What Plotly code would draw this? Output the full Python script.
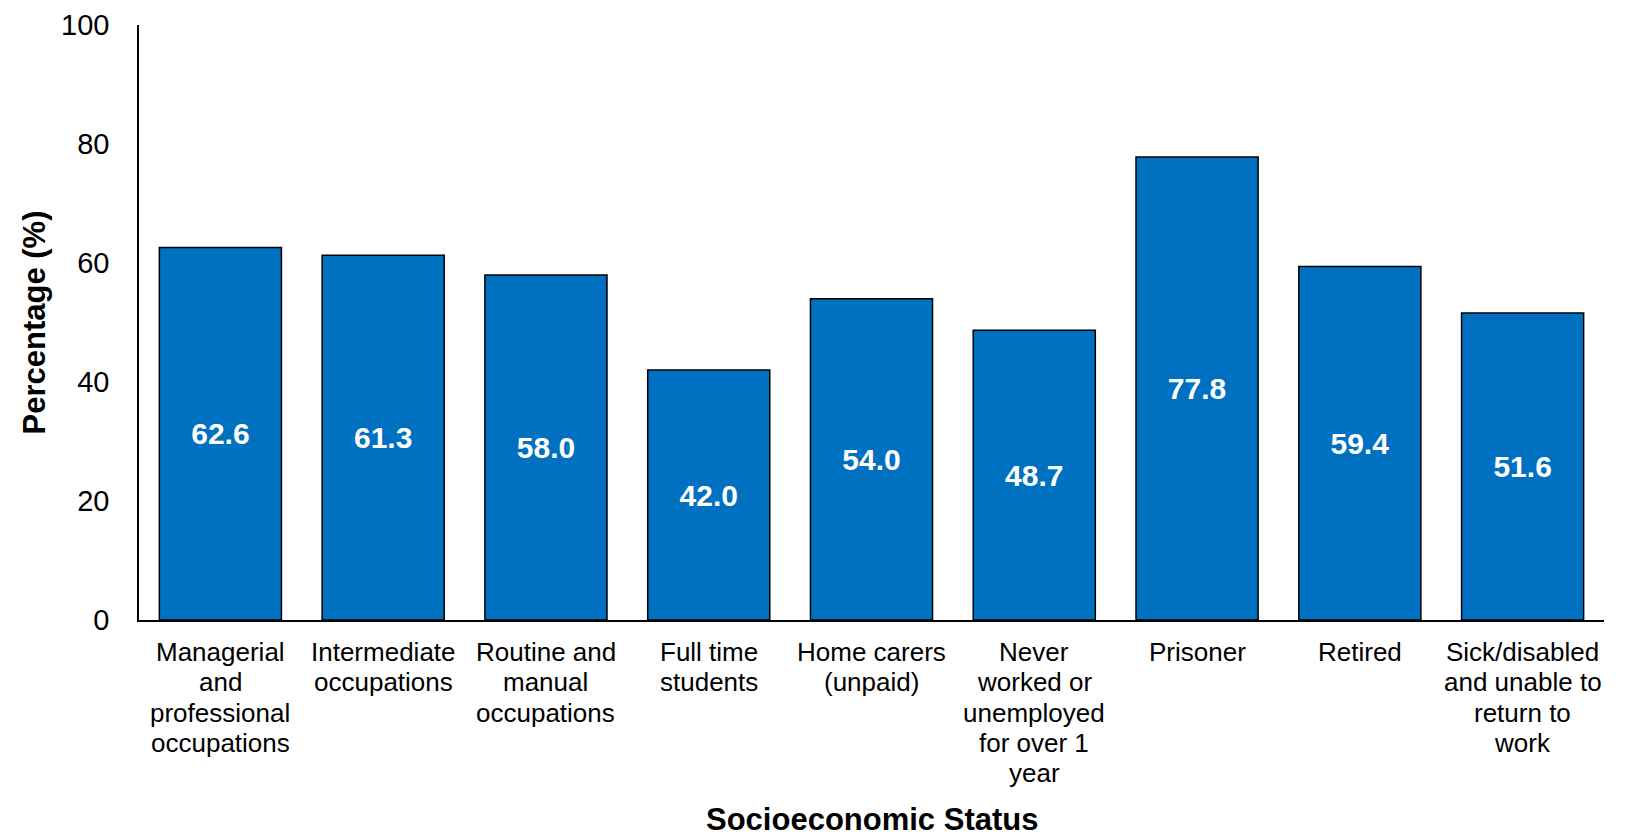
import plotly.graph_objects as go

categories = [
    "Managerial and professional occupations",
    "Intermediate occupations",
    "Routine and manual occupations",
    "Full time students",
    "Home carers (unpaid)",
    "Never worked or unemployed for over 1 year",
    "Prisoner",
    "Retired",
    "Sick/disabled and unable to return to work",
]
label_lines = [
    ["Managerial", "and", "professional", "occupations"],
    ["Intermediate", "occupations"],
    ["Routine and", "manual", "occupations"],
    ["Full time", "students"],
    ["Home carers", "(unpaid)"],
    ["Never", "worked or", "unemployed", "for over 1", "year"],
    ["Prisoner"],
    ["Retired"],
    ["Sick/disabled", "and unable to", "return to", "work"],
]
values = [62.6, 61.3, 58.0, 42.0, 54.0, 48.7, 77.8, 59.4, 51.6]
y_ticks = [0, 20, 40, 60, 80, 100]

FONT = "Arial, Liberation Sans, sans-serif"

fig = go.Figure()
fig.add_trace(go.Bar(
    x=categories,
    y=values,
    marker=dict(color="#0070C0", line=dict(color="black", width=1.5)),
    text=[f"{v:.1f}" for v in values],
    textposition="inside",
    insidetextanchor="middle",
    textangle=0,
    textfont=dict(family=FONT, size=30, color="white", weight="bold"),
    hoverinfo="x+y",
))

annotations = []
for cat, lines in zip(categories, label_lines):
    for i, line in enumerate(lines):
        annotations.append(dict(
            x=cat, y=0, xref="x", yref="y",
            text=line, showarrow=False,
            yanchor="middle", xanchor="center",
            yshift=-(32 + i * 30.3),
            font=dict(family=FONT, size=26, color="black"),
        ))

annotations.append(dict(
    x=0.5, y=0, xref="paper", yref="paper",
    text="<b>Socioeconomic Status</b>", showarrow=False,
    yanchor="middle", xanchor="center", yshift=-199,
    font=dict(family=FONT, size=31, color="black"),
))
annotations.append(dict(
    x=0, y=0.5, xref="paper", yref="paper",
    text="<b>Percentage (%)</b>", showarrow=False, textangle=-90,
    yanchor="middle", xanchor="center", xshift=-105,
    font=dict(family=FONT, size=31, color="black"),
))

fig.update_layout(
    width=1626, height=835,
    margin=dict(l=139, r=22, t=25, b=215),
    paper_bgcolor="white", plot_bgcolor="white",
    bargap=0.25,
    showlegend=False,
    annotations=annotations,
    font=dict(family=FONT, color="black"),
    xaxis=dict(
        showticklabels=False, showgrid=False, zeroline=False, automargin=False,
        showline=True, linecolor="black", linewidth=2, ticks="",
    ),
    yaxis=dict(
        range=[0, 100], tickvals=y_ticks, showgrid=False, zeroline=False,
        automargin=False,
        showline=True, linecolor="black", linewidth=1.5, ticks="",
        tickfont=dict(family=FONT, size=29, color="black"),
        ticklabelstandoff=22,
    ),
)

fig.write_html(
    "out.html",
    config={"displayModeBar": False},
    post_script="document.body.style.margin='0';document.body.style.overflow='hidden';",
)
